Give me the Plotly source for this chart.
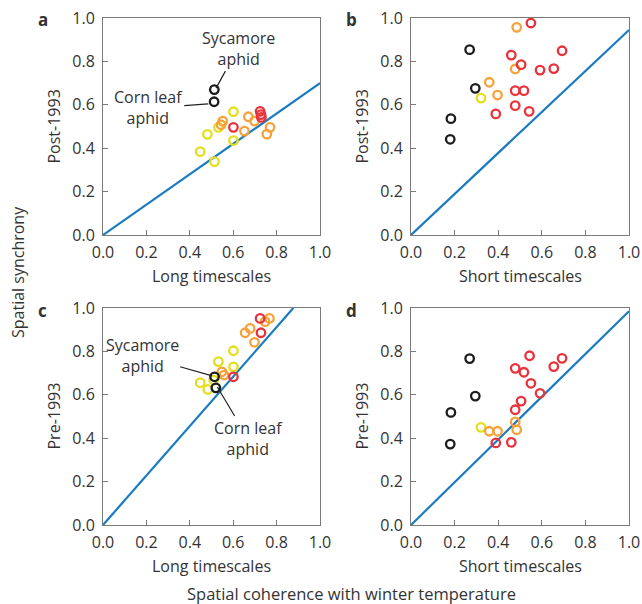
import plotly.graph_objects as go

# ---------------- data ----------------
# Panel a: Long timescales, post-1993
a_black_x = [0.513, 0.512]
a_black_y = [0.670, 0.614]
a_yellow_x = [0.601, 0.481, 0.448, 0.514, 0.601, 0.532]
a_yellow_y = [0.568, 0.464, 0.384, 0.338, 0.435, 0.496]
a_orange_x = [0.552, 0.544, 0.670, 0.698, 0.652, 0.770, 0.755]
a_orange_y = [0.525, 0.508, 0.545, 0.525, 0.479, 0.496, 0.465]
a_red_x = [0.601, 0.724, 0.728, 0.730]
a_red_y = [0.496, 0.570, 0.555, 0.542]

# Panel b: Short timescales, post-1993
b_black_x = [0.269, 0.295, 0.183, 0.180]
b_black_y = [0.854, 0.676, 0.536, 0.441]
b_yellow_x = [0.321]
b_yellow_y = [0.631]
b_orange_x = [0.485, 0.478, 0.359, 0.397]
b_orange_y = [0.957, 0.765, 0.704, 0.645]
b_red_x = [0.550, 0.460, 0.505, 0.592, 0.655, 0.693, 0.478, 0.518, 0.478, 0.542, 0.389]
b_red_y = [0.977, 0.829, 0.785, 0.760, 0.767, 0.849, 0.665, 0.665, 0.596, 0.570, 0.558]

# Panel c: Long timescales, pre-1993
c_black_x = [0.514, 0.520]
c_black_y = [0.683, 0.632]
c_yellow_x = [0.601, 0.532, 0.601, 0.448, 0.483, 0.510]
c_yellow_y = [0.803, 0.753, 0.729, 0.656, 0.625, 0.668]
c_orange_x = [0.767, 0.747, 0.678, 0.655, 0.698, 0.548, 0.558]
c_orange_y = [0.952, 0.937, 0.906, 0.886, 0.842, 0.706, 0.691]
c_red_x = [0.724, 0.728, 0.601]
c_red_y = [0.952, 0.886, 0.683]

# Panel d: Short timescales, pre-1993
d_black_x = [0.269, 0.295, 0.183, 0.180]
d_black_y = [0.767, 0.594, 0.519, 0.373]
d_yellow_x = [0.321]
d_yellow_y = [0.450]
d_orange_x = [0.359, 0.397, 0.478, 0.485]
d_orange_y = [0.432, 0.432, 0.475, 0.439]
d_red_x = [0.544, 0.478, 0.518, 0.550, 0.592, 0.655, 0.693, 0.505, 0.478, 0.389, 0.460]
d_red_y = [0.780, 0.722, 0.704, 0.653, 0.607, 0.730, 0.768, 0.571, 0.531, 0.378, 0.381]

# slopes of the blue reference lines (y = slope * x)
line_slopes = [0.70, 0.945, 1.14, 0.985]

tick_vals = [0.0, 0.2, 0.4, 0.6, 0.8, 1.0]
tick_text = ["0.0", "0.2", "0.4", "0.6", "0.8", "1.0"]
panel_letters = ["a", "b", "c", "d"]
x_titles = ["Long timescales", "Short timescales", "Long timescales", "Short timescales"]
y_titles = ["Post-1993", "Post-1993", "Pre-1993", "Pre-1993"]

# ---------------- styling ----------------
W, H = 642, 604
FONT = "Open Sans"
TXT = "#333333"
AX = "#7a7a7a"
COL_BLACK = "#1c1c1c"
COL_YELLOW = "#e4df1c"
COL_ORANGE = "#f6a23a"
COL_RED = "#e8323c"
COL_LINE = "#1b7bc0"

# pixel boxes of the plot areas (x0, x1, y0top, y1bottom)
boxes = [(103, 320, 18, 235), (411, 629, 18, 235), (103, 320, 308, 525), (411, 629, 308, 525)]

panels = [
    (a_black_x, a_black_y, a_yellow_x, a_yellow_y, a_orange_x, a_orange_y, a_red_x, a_red_y),
    (b_black_x, b_black_y, b_yellow_x, b_yellow_y, b_orange_x, b_orange_y, b_red_x, b_red_y),
    (c_black_x, c_black_y, c_yellow_x, c_yellow_y, c_orange_x, c_orange_y, c_red_x, c_red_y),
    (d_black_x, d_black_y, d_yellow_x, d_yellow_y, d_orange_x, d_orange_y, d_red_x, d_red_y),
]

fig = go.Figure()
annotations = []


def ptxt(px, py, text, size=16, angle=0):
    return dict(x=px / W, y=1 - py / H, xref="paper", yref="paper", text=text,
                showarrow=False, xanchor="center", yanchor="middle", textangle=angle,
                font=dict(family=FONT, size=size, color=TXT))


for i, (box, data) in enumerate(zip(boxes, panels)):
    n = "" if i == 0 else str(i + 1)
    xa, ya = "x" + n, "y" + n
    x0, x1, yt, yb = box
    xdom = [x0 / W, x1 / W]
    ydom = [1 - yb / H, 1 - yt / H]
    axis_common = dict(
        range=[0, 1], tickvals=tick_vals, ticktext=tick_text, ticks="inside",
        ticklen=5, tickcolor=AX, tickwidth=1, showline=True, linecolor=AX,
        linewidth=1, mirror=True, showgrid=False, zeroline=False, automargin=False,
        tickfont=dict(family=FONT, size=16, color=TXT), fixedrange=True,
    )
    fig.update_layout({
        "xaxis" + n: dict(domain=xdom, anchor=ya, ticklabelstandoff=3, **axis_common),
        "yaxis" + n: dict(domain=ydom, anchor=xa, ticklabelstandoff=4, **axis_common),
    })
    # blue reference line
    s = line_slopes[i]
    xe = min(1.0, 1.0 / s)
    fig.add_trace(go.Scatter(x=[0, xe], y=[0, s * xe], mode="lines",
                             line=dict(color=COL_LINE, width=2.2),
                             xaxis=xa, yaxis=ya, showlegend=False, hoverinfo="skip"))
    bx, by, yx, yy, ox, oy, rx, ry = data
    for xs, ys, col in [(yx, yy, COL_YELLOW), (ox, oy, COL_ORANGE), (rx, ry, COL_RED), (bx, by, COL_BLACK)]:
        fig.add_trace(go.Scatter(
            x=xs, y=ys, mode="markers",
            marker=dict(symbol="circle-open", size=8.5, color=col, line=dict(color=col, width=2.3)),
            xaxis=xa, yaxis=ya, showlegend=False, cliponaxis=False))
    cx = (x0 + x1) / 2
    cy = (yt + yb) / 2
    annotations.append(ptxt(x0 - 60, yt + 2, "<b>" + panel_letters[i] + "</b>", size=17))
    annotations.append(ptxt(cx, yb + 41, x_titles[i]))
    annotations.append(ptxt(x0 - 50, cy, y_titles[i], angle=-90))

# global titles
annotations.append(ptxt(18, 272, "Spatial synchrony", angle=-90))
annotations.append(ptxt(352, 593, "Spatial coherence with winter temperature", size=16.5))

# species labels
lab_font = dict(family=FONT, size=16, color=TXT)
arrow = dict(showarrow=True, arrowhead=0, arrowwidth=1.2, arrowcolor="#222222", standoff=0,
             xanchor="center", yanchor="middle")
annotations += [
    dict(x=0.521, y=0.677, xref="x", yref="y", text="Sycamore<br>aphid", ax=22, ay=-40,
         font=lab_font, **arrow),
    dict(x=0.485, y=0.604, xref="x", yref="y", text="Corn leaf<br>aphid", ax=-60, ay=4,
         font=lab_font, **arrow),
    dict(x=0.503, y=0.687, xref="x3", yref="y3", text="Sycamore<br>aphid", ax=-70, ay=-20,
         font=lab_font, **arrow),
    dict(x=0.527, y=0.636, xref="x3", yref="y3", text="Corn leaf<br>aphid", ax=31, ay=52,
         font=lab_font, **arrow),
]

fig.update_layout(width=W, height=H, margin=dict(l=0, r=0, t=0, b=0, autoexpand=False),
                  paper_bgcolor="white", plot_bgcolor="white",
                  annotations=annotations, font=dict(family=FONT, color=TXT))

fig.write_html("out.html")
